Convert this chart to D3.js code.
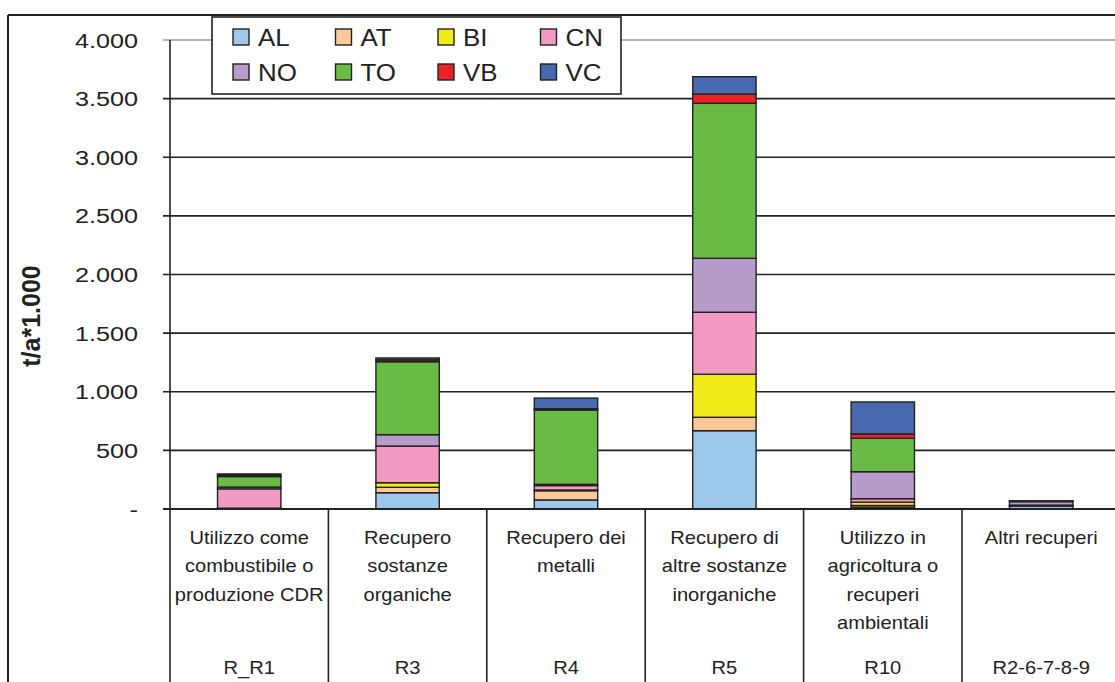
<!DOCTYPE html>
<html>
<head>
<meta charset="utf-8">
<script src="https://cdn.jsdelivr.net/npm/d3@7"></script>
<style>
  body { margin: 0; background: #fff; }
  svg { display: block; font-family: "Liberation Sans", Arial, sans-serif; }
</style>
</head>
<body>
<svg id="chart" width="1115" height="682"></svg>
<script>
// Data (t/a * 1.000)
var codes = ["R_R1", "R3", "R4", "R5", "R10", "R2-6-7-8-9"];
var labels = [
  ["Utilizzo come", "combustibile o", "produzione CDR"],
  ["Recupero", "sostanze", "organiche"],
  ["Recupero dei", "metalli"],
  ["Recupero di", "altre sostanze", "inorganiche"],
  ["Utilizzo in", "agricoltura o", "recuperi", "ambientali"],
  ["Altri recuperi"]
];
var provinces = ["AL", "AT", "BI", "CN", "NO", "TO", "VB", "VC"];
var AL = [3, 139, 77, 668, 15, 25];
var AT = [2, 46, 79, 114, 15, 3];
var BI = [2, 39, 6, 367, 28, 2];
var CN = [165, 313, 38, 529, 30, 3];
var NO = [15, 97, 10, 460, 230, 30];
var TO = [90, 622, 634, 1322, 285, 3];
var VB = [10, 16, 12, 79, 37, 1];
var VC = [12, 16, 90, 148, 273, 2];
var yTicks = [0, 500, 1000, 1500, 2000, 2500, 3000, 3500, 4000];
var colors = ["#9ec8e9", "#fdca97", "#f2ea19", "#f29ac1", "#b79bca", "#6abb45", "#ed2227", "#4868b0"];

var series = { AL: AL, AT: AT, BI: BI, CN: CN, NO: NO, TO: TO, VB: VB, VC: VC };
var rows = codes.map(function(c, i){
  var r = { code: c };
  provinces.forEach(function(p){ r[p] = series[p][i]; });
  return r;
});

var svg = d3.select("#chart");
var plotLeft = 170, plotRight = 1120.4, plotTop = 40, base = 509;
var ink = "#222";

var x = d3.scaleBand().domain(codes).range([plotLeft, plotRight]).paddingInner(0.6).paddingOuter(0.3);
var y = d3.scaleLinear().domain([0, 4000]).range([base, plotTop]);
var color = d3.scaleOrdinal().domain(provinces).range(colors);
var fmt = function(v){ return v === 0 ? "-" : v.toString().replace(/\B(?=(\d{3})+(?!\d))/g, "."); };

// outer frame
svg.append("line").attr("x1", 8).attr("x2", 1115).attr("y1", 15).attr("y2", 15)
  .attr("stroke", ink).attr("stroke-width", 2);
svg.append("line").attr("x1", 8).attr("x2", 8).attr("y1", 15).attr("y2", 682)
  .attr("stroke", ink).attr("stroke-width", 2);

// gridlines
svg.append("g").selectAll("line").data(yTicks).enter().append("line")
  .attr("x1", plotLeft - 7).attr("x2", 1115)
  .attr("y1", function(d){ return y(d); }).attr("y2", function(d){ return y(d); })
  .attr("stroke", function(d){ return d === 4000 ? "#999" : ink; })
  .attr("stroke-width", 1.6);

// y axis line
svg.append("line").attr("x1", plotLeft).attr("x2", plotLeft).attr("y1", plotTop).attr("y2", 682)
  .attr("stroke", ink).attr("stroke-width", 1.6);

// y tick labels (slightly wide type, as in the original)
svg.append("g").selectAll("text").data(yTicks).enter().append("text")
  .attr("transform", function(d){ return "translate(138," + (y(d) + 7.5) + ") scale(1.2,1)"; })
  .attr("text-anchor", "end").attr("font-size", 21).attr("fill", ink)
  .text(fmt);

svg.append("text")
  .attr("transform", "translate(40,316) rotate(-90)")
  .attr("text-anchor", "middle").attr("font-size", 25).attr("font-weight", "bold").attr("fill", ink)
  .text("t/a*1.000");

// stacked bars
var stack = d3.stack().keys(provinces)(rows);
svg.append("g").selectAll("g").data(stack).enter().append("g")
  .attr("fill", function(d){ return color(d.key); })
  .selectAll("rect").data(function(d){ return d; }).enter().append("rect")
    .attr("x", function(d){ return x(d.data.code); })
    .attr("width", x.bandwidth())
    .attr("y", function(d){ return y(d[1]); })
    .attr("height", function(d){ return y(d[0]) - y(d[1]); })
    .attr("stroke", ink).attr("stroke-width", 1.4);

// baseline over bars
svg.append("line").attr("x1", plotLeft - 7).attr("x2", 1115).attr("y1", base).attr("y2", base)
  .attr("stroke", ink).attr("stroke-width", 1.8);

// category dividers
var step = x.step();
svg.append("g").selectAll("line").data(codes.slice(1)).enter().append("line")
  .attr("x1", function(d){ return x(d) - step * 0.3; })
  .attr("x2", function(d){ return x(d) - step * 0.3; })
  .attr("y1", base).attr("y2", 682)
  .attr("stroke", ink).attr("stroke-width", 1.6);

// category labels
var cat = svg.append("g").selectAll("g").data(codes).enter().append("g")
  .attr("transform", function(d){ return "translate(" + (x(d) + x.bandwidth() / 2) + ",0)"; });
cat.each(function(d, i){
  var g = d3.select(this);
  labels[i].forEach(function(line, j){
    g.append("text").attr("transform", "translate(0," + (544 + j * 28.3) + ") scale(1.15,1)")
      .attr("text-anchor", "middle").attr("font-size", 17.5).attr("fill", ink).text(line);
  });
  g.append("text").attr("transform", "translate(0,674) scale(1.15,1)")
    .attr("text-anchor", "middle").attr("font-size", 17.5).attr("fill", ink).text(d);
});

// legend
var lg = svg.append("g");
lg.append("rect").attr("x", 212).attr("y", 17).attr("width", 409).attr("height", 77)
  .attr("fill", "#fff").attr("stroke", ink).attr("stroke-width", 1.6);
var item = lg.selectAll("g.item").data(provinces).enter().append("g")
  .attr("transform", function(d, i){
    return "translate(" + (233 + (i % 4) * 102.5) + "," + (29 + Math.floor(i / 4) * 35) + ")";
  });
item.append("rect").attr("width", 16).attr("height", 16)
  .attr("fill", function(d){ return color(d); })
  .attr("stroke", ink).attr("stroke-width", 1.4);
item.append("text").attr("transform", "translate(25,17) scale(1.08,1)")
  .attr("font-size", 24).attr("fill", ink).text(function(d){ return d; });
</script>
</body>
</html>
